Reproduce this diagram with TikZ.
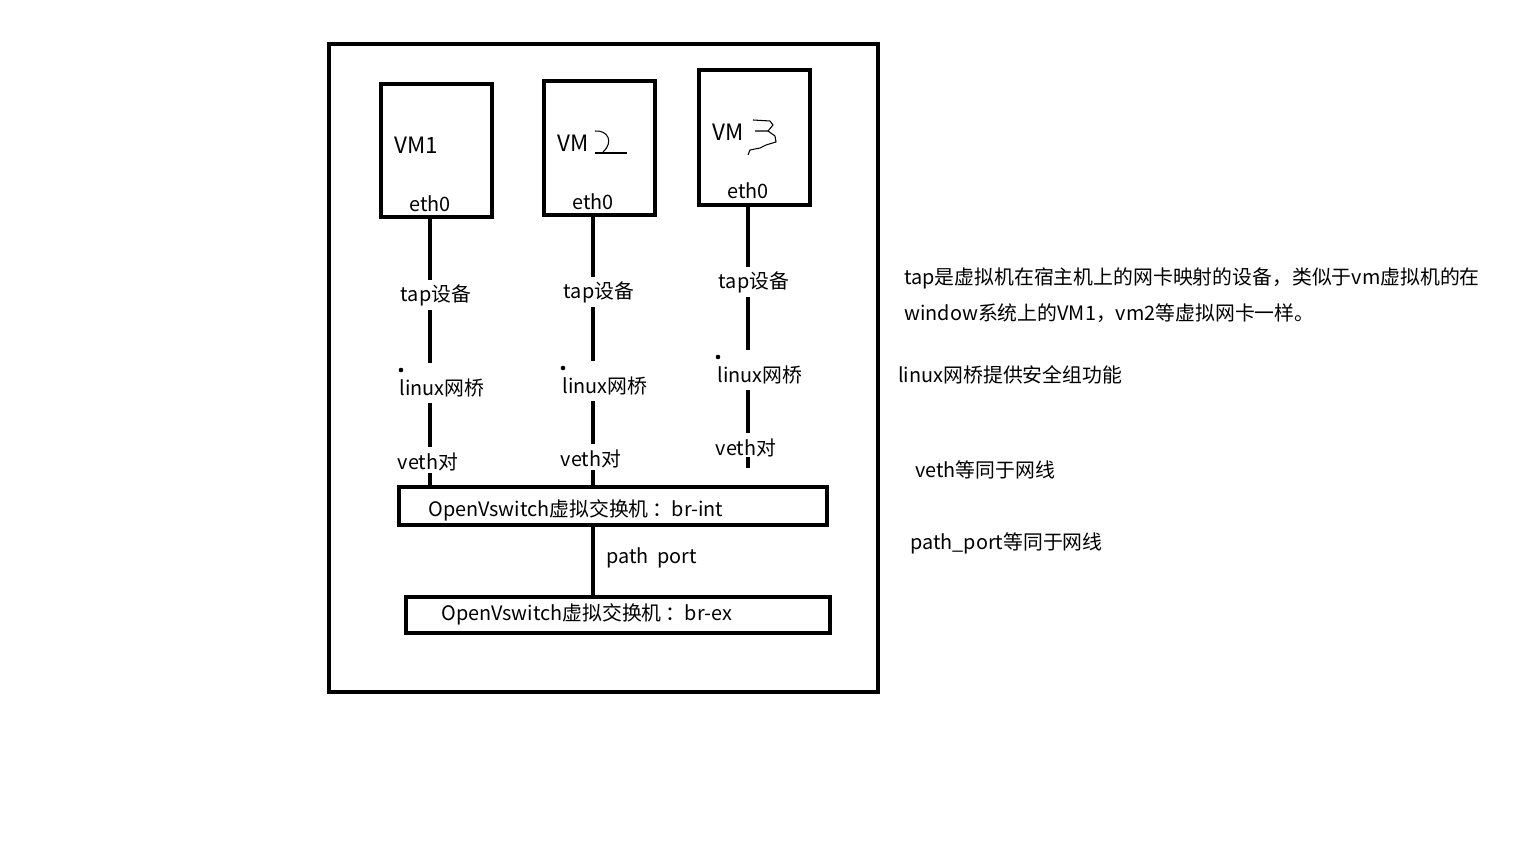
\documentclass[tikz,border=0pt]{standalone}
\usepackage{fontspec}
\setmainfont{Noto Sans CJK SC}
\begin{document}
\begin{tikzpicture}[x=0.02cm,y=-0.02cm,
  frame/.style={draw,line width=0.085cm,inner sep=0pt},
  wire/.style={line width=0.09cm},
  lbl/.style={inner sep=0pt,minimum height=0.6cm,font=\fontsize{11.3}{13}\selectfont},
  vmname/.style={lbl,anchor=west,font=\fontsize{12.8}{14}\selectfont},
  pen/.style={line width=0.6pt,line join=round}]
\useasboundingbox[fill=white] (0,0) rectangle (1536,864);
% host
\node[frame,minimum width=10.98cm,minimum height=12.96cm] (host) at (603.5,368) {};
% virtual machines
\node[frame,minimum width=2.22cm,minimum height=2.66cm] (vm1) at (436.5,150.5) {};
\node[frame,minimum width=2.22cm,minimum height=2.68cm] (vm2) at (599.5,148) {};
\node[frame,minimum width=2.22cm,minimum height=2.7cm] (vm3) at (754.5,137.5) {};
\node[vmname] (vm1name) at (394,145) {VM1};
\node[vmname] (vm2name) at (557,143) {VM};
\node[vmname] (vm3name) at (712,132) {VM};
\node[lbl] (eth1) at (430,204) {eth0};
\node[lbl] (eth2) at (593,202) {eth0};
\node[lbl] (eth3) at (748,191) {eth0};
% hand written digits
\draw[pen] (595,131) .. controls (608,130) and (614,142) .. (603,152);
\draw[pen] (595,153) -- (627,153);
\draw[pen] (753,120) -- (770,121) -- (773,125) -- (768,131) -- (755,131);
\draw[pen] (768,131) -- (775,136) -- (776,142) -- (766,145) -- (760,148) -- (750,150) -- (748,155);
% switches
\node[frame,minimum width=8.56cm,minimum height=0.76cm] (brint) at (613,506) {};
\node[frame,minimum width=8.48cm,minimum height=0.72cm] (brex) at (618,615) {};
\node[lbl,anchor=west] (brinttext) at (428,510) {OpenVswitch虚拟交换机\,：br-int};
\node[lbl,anchor=west] (brextext) at (441,614) {OpenVswitch虚拟交换机\,：br-ex};
% columns
\coordinate (col1) at (430,0);
\coordinate (col2) at (593,0);
\coordinate (col3) at (748,0);
\node[lbl] (tap1) at (436,295) {tap设备};
\node[lbl] (tap2) at (599,292) {tap设备};
\node[lbl] (tap3) at (754,282) {tap设备};
\node[lbl] (lb1) at (442,388) {linux网桥};
\node[lbl] (lb2) at (605,386) {linux网桥};
\node[lbl] (lb3) at (760,375) {linux网桥};
\node[lbl] (veth1) at (428,462) {veth对};
\node[lbl] (veth2) at (591,459) {veth对};
\node[lbl] (veth3) at (746,448) {veth对};
\fill (401,370) circle (1.3pt);
\fill (563,368) circle (1.3pt);
\fill (718,357) circle (1.3pt);
\draw[wire] (vm1.south -| col1) -- (tap1.north -| col1);
\draw[wire,shorten >=0.2cm] (tap1.south -| col1) -- (lb1.north -| col1);
\draw[wire] (lb1.south -| col1) -- (veth1.north -| col1);
\draw[wire,shorten <=-0.08cm] (veth1.south -| col1) -- (brint.north -| col1);
\draw[wire] (vm2.south -| col2) -- (tap2.north -| col2);
\draw[wire,shorten >=0.2cm] (tap2.south -| col2) -- (lb2.north -| col2);
\draw[wire] (lb2.south -| col2) -- (veth2.north -| col2);
\draw[wire,shorten <=-0.08cm] (veth2.south -| col2) -- (brint.north -| col2);
\draw[wire] (vm3.south -| col3) -- (tap3.north -| col3);
\draw[wire,shorten >=0.2cm] (tap3.south -| col3) -- (lb3.north -| col3);
\draw[wire] (lb3.south -| col3) -- (veth3.north -| col3);
\draw[wire,shorten <=-0.12cm,shorten >=0.34cm] (veth3.south -| col3) -- (brint.north -| col3);
% patch between switches
\draw[wire] (brint.south -| col2) -- (brex.north -| col2);
\node[lbl,anchor=west] (patch) at (606,558) {path\ \ port};
% notes
\node[lbl,anchor=west] (note1) at (904,278) {tap是虚拟机在宿主机上的网卡映射的设备，类似于vm虚拟机的在};
\node[lbl,anchor=west] (note2) at (904,313) {window系统上的VM1，vm2等虚拟网卡一样。};
\node[lbl,anchor=west] (note3) at (898,375) {linux网桥提供安全组功能};
\node[lbl,anchor=west] (note4) at (915,470) {veth等同于网线};
\node[lbl,anchor=west] (note5) at (910,543) {path\_port等同于网线};
\end{tikzpicture}
\end{document}
